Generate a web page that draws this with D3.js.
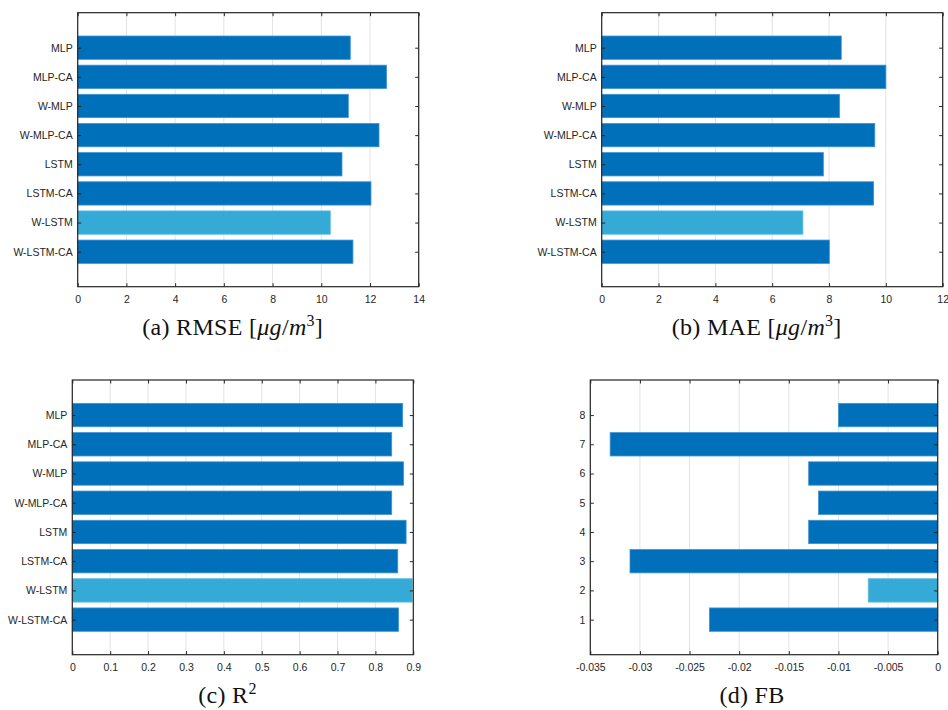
<!DOCTYPE html>
<html>
<head>
<meta charset="utf-8">
<script src="https://cdn.jsdelivr.net/npm/d3@7/dist/d3.min.js"></script>
<style>
  html, body { margin: 0; padding: 0; background: #fff; }
  svg { display: block; }
  .tick-label { font-family: "Liberation Sans", Arial, sans-serif; font-size: 10.5px; fill: #262626; }
  .caption { font-family: "Liberation Serif", "Times New Roman", serif; font-size: 24px; fill: #111; letter-spacing: 0.3px; }
</style>
</head>
<body>
<svg id="chart" width="948" height="710"></svg>
<script>
// Model names, top to bottom
const models = ["MLP", "MLP-CA", "W-MLP", "W-MLP-CA", "LSTM", "LSTM-CA", "W-LSTM", "W-LSTM-CA"];
// Index labels used on the FB panel (top to bottom)
const fbLabels = ["8", "7", "6", "5", "4", "3", "2", "1"];

// Metric values per model
const rmse = [11.19, 12.68, 11.11, 12.37, 10.85, 12.04, 10.37, 11.30];
const mae  = [8.43, 10.00, 8.37, 9.61, 7.80, 9.57, 7.08, 8.01];
const r2   = [0.872, 0.843, 0.874, 0.843, 0.881, 0.859, 0.897, 0.861];
const fb   = [-0.010, -0.033, -0.013, -0.012, -0.013, -0.031, -0.007, -0.023];

// Tick values of each x axis
const rmseTicks = [0, 2, 4, 6, 8, 10, 12, 14];
const maeTicks  = [0, 2, 4, 6, 8, 10, 12];
const r2Ticks   = [0, 0.1, 0.2, 0.3, 0.4, 0.5, 0.6, 0.7, 0.8, 0.9];
const fbTicks   = [-0.035, -0.03, -0.025, -0.02, -0.015, -0.01, -0.005, 0];

const bestIndex = 6;               // W-LSTM is drawn in the lighter colour
const barColor = "#0070ba";
const bestColor = "#35aad6";
const edgeColor = "#3f93d3";
const axisColor = "#262626";

const svg = d3.select("#chart");

const panels = [
  { values: rmse, labels: models, ticks: rmseTicks, domain: [0, 14],
    box: { left: 77.7, right: 418.7, top: 12.7, bottom: 286.7 },
    caption: { x: 232.7, y: 335, id: "a", name: "RMSE", unit: true } },
  { values: mae, labels: models, ticks: maeTicks, domain: [0, 12],
    box: { left: 601.7, right: 942.7, top: 12.7, bottom: 286.7 },
    caption: { x: 756.7, y: 335, id: "b", name: "MAE", unit: true } },
  { values: r2, labels: models, ticks: r2Ticks, domain: [0, 0.9],
    box: { left: 72.3, right: 413.3, top: 380, bottom: 654.7 },
    caption: { x: 227.5, y: 703, id: "c", name: "R", sup: "2" } },
  { values: fb, labels: fbLabels, ticks: fbTicks, domain: [-0.035, 0],
    box: { left: 590.3, right: 937.7, top: 380, bottom: 654.7 },
    caption: { x: 752, y: 703, id: "d", name: "FB" } }
];

const fmt = v => {
  const s = d3.format("~g")(+v.toFixed(6));
  return s.replace("−", "-");
};

panels.forEach(p => {
  const b = p.box;
  const g = svg.append("g");
  const x = d3.scaleLinear().domain(p.domain).range([b.left, b.right]);
  // category positions: 8 at the top, 1 at the bottom, with padding around
  const y = d3.scaleLinear().domain([-0.2, 9.2]).range([b.bottom, b.top]);
  const pos = i => 8 - i;
  const bw = 0.8;

  // vertical grid
  g.append("g").selectAll("line").data(p.ticks).join("line")
    .attr("x1", d => x(d)).attr("x2", d => x(d))
    .attr("y1", b.top).attr("y2", b.bottom)
    .attr("stroke", "#e3e3e3").attr("stroke-width", 1);

  // bars start at zero
  g.append("g").selectAll("rect").data(p.values).join("rect")
    .attr("x", d => Math.min(x(0), x(d)))
    .attr("width", d => Math.abs(x(d) - x(0)))
    .attr("y", (d, i) => y(pos(i) + bw / 2))
    .attr("height", y(0) - y(bw))
    .attr("fill", (d, i) => i === bestIndex ? bestColor : barColor)
    .attr("stroke", (d, i) => i === bestIndex ? "#5cbde0" : edgeColor)
    .attr("stroke-width", 0.8);

  // bottom axis with inward ticks
  const xAxis = d3.axisBottom(x).tickValues(p.ticks).tickFormat(fmt)
    .tickSizeInner(-3.5).tickSizeOuter(0);
  const ax = g.append("g").attr("transform", `translate(0,${b.bottom})`).call(xAxis);
  ax.select(".domain").remove();
  ax.selectAll(".tick line").attr("stroke", axisColor);
  ax.selectAll(".tick text").attr("class", "tick-label").attr("dy", "0.71em")
    .attr("y", 8.5);

  // top axis ticks (no labels)
  const xTop = d3.axisTop(x).tickValues(p.ticks).tickFormat("")
    .tickSizeInner(-3.5).tickSizeOuter(0);
  const at = g.append("g").attr("transform", `translate(0,${b.top})`).call(xTop);
  at.select(".domain").remove();
  at.selectAll(".tick line").attr("stroke", axisColor);

  // left axis with category labels
  const yAxis = d3.axisLeft(y).tickValues(d3.range(8).map(pos))
    .tickFormat(v => p.labels[8 - v]).tickSizeInner(-3.5).tickSizeOuter(0);
  const ay = g.append("g").attr("transform", `translate(${b.left},0)`).call(yAxis);
  ay.select(".domain").remove();
  ay.selectAll(".tick line").attr("stroke", axisColor);
  ay.selectAll(".tick text").attr("class", "tick-label").attr("x", -5);

  // right axis ticks
  const yRight = d3.axisRight(y).tickValues(d3.range(8).map(pos)).tickFormat("")
    .tickSizeInner(-3.5).tickSizeOuter(0);
  const ar = g.append("g").attr("transform", `translate(${b.right},0)`).call(yRight);
  ar.select(".domain").remove();
  ar.selectAll(".tick line").attr("stroke", axisColor);

  // axes box
  g.append("rect")
    .attr("x", b.left).attr("y", b.top)
    .attr("width", b.right - b.left).attr("height", b.bottom - b.top)
    .attr("fill", "none").attr("stroke", axisColor).attr("stroke-width", 1.2);

  // caption
  const c = p.caption;
  const t = g.append("text").attr("class", "caption")
    .attr("x", c.x).attr("y", c.y).attr("text-anchor", "middle");
  t.append("tspan").text(`(${c.id}) ${c.name}`);
  if (c.unit) {
    t.append("tspan").text(" [");
    t.append("tspan").attr("font-style", "italic").text("μg");
    t.append("tspan").text("/");
    t.append("tspan").attr("font-style", "italic").text("m");
    t.append("tspan").attr("font-size", "16px").attr("dy", "-9").text("3");
    t.append("tspan").attr("dy", "9").text("]");
  }
  if (c.sup) {
    t.append("tspan").attr("font-size", "16px").attr("dy", "-9").text(c.sup);
  }
});
</script>
</body>
</html>
